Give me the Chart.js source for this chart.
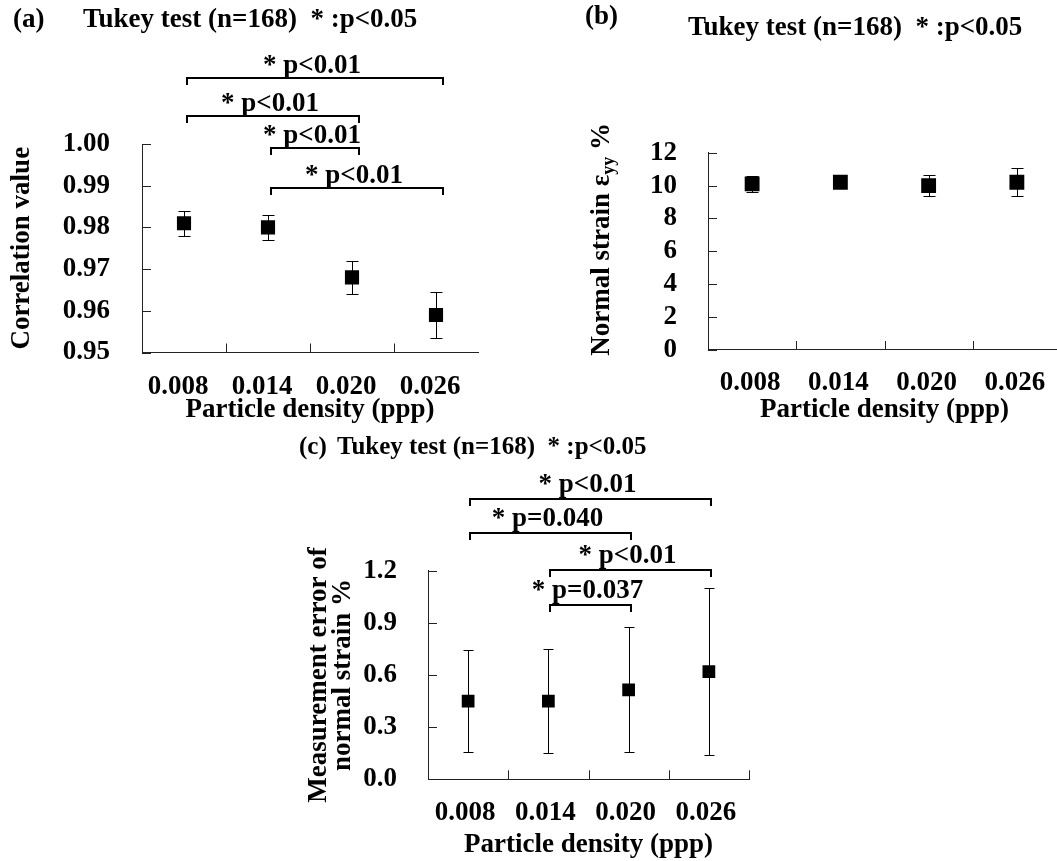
<!DOCTYPE html>
<html>
<head>
<meta charset="utf-8">
<title>Particle density comparison</title>
<script src="https://cdn.jsdelivr.net/npm/chart.js@4.4.0/dist/chart.umd.min.js"></script>
<style>
  html, body { margin: 0; padding: 0; background: #fff; overflow: hidden; }
  canvas { position: absolute; left: 0; top: 0; }
</style>
</head>
<body>
<canvas id="panel-a" width="1100" height="861"></canvas>
<canvas id="panel-b" width="1100" height="861"></canvas>
<canvas id="panel-c" width="1100" height="861"></canvas>
<script>
// Particle densities (ppp)
const densities = ['0.008', '0.014', '0.020', '0.026'];

// (a) correlation value: mean and SD
const corrMean = [0.981, 0.980, 0.968, 0.959];
const corrSd = [0.003, 0.003, 0.004, 0.0055];
const corrTicks = [0.95, 0.96, 0.97, 0.98, 0.99, 1.00];
const corrPairs = [[0, 3, '* p<0.01'], [0, 2, '* p<0.01'], [1, 2, '* p<0.01'], [1, 3, '* p<0.01']];

// (b) normal strain eps_yy %: mean and SD
const strainMean = [10.1, 10.2, 10.0, 10.2];
const strainSd = [0.5, 0.3, 0.65, 0.85];
const strainTicks = [0, 2, 4, 6, 8, 10, 12];

// (c) measurement error of normal strain %: mean and SD
const errMean = [0.45, 0.45, 0.515, 0.62];
const errSd = [0.295, 0.30, 0.36, 0.478];
const errTicks = [0.0, 0.3, 0.6, 0.9, 1.2];
const errPairs = [[0, 3, '* p<0.01'], [0, 2, '* p=0.040'], [1, 3, '* p<0.01'], [1, 2, '* p=0.037']];

const tukeyNote = 'Tukey test (n=168)  * :p<0.05';

const SERIF = '"Liberation Serif", "Times New Roman", serif';
const bold = (size, lineHeight) => ({ family: SERIF, size: size, weight: 'bold', lineHeight: lineHeight || 1.2 });
const cssFont = size => 'bold ' + size + 'px ' + SERIF;

function makePanel(cfg) {
    const extras = {
        id: 'extras',
        // error bars sit under the square markers
        beforeDatasetsDraw(chart) {
            const { ctx, scales: { x, y } } = chart;
            ctx.save();
            ctx.strokeStyle = '#000';
            ctx.lineWidth = 1;
            ctx.beginPath();
            cfg.means.forEach((m, i) => {
                const px = Math.round(x.getPixelForValue(i)) + 0.5;
                const top = Math.round(y.getPixelForValue(m + cfg.sds[i])) + 0.5;
                const bot = Math.round(y.getPixelForValue(m - cfg.sds[i])) + 0.5;
                const h = cfg.capWidth / 2;
                ctx.moveTo(px, top); ctx.lineTo(px, bot);
                ctx.moveTo(px - h, top); ctx.lineTo(px + h, top);
                ctx.moveTo(px - h, bot); ctx.lineTo(px + h, bot);
            });
            ctx.stroke();
            ctx.restore();
        },
        afterDraw(chart) {
            const { ctx, chartArea: area, scales: { x, y } } = chart;
            ctx.save();

            // tick marks pointing into the plot
            ctx.strokeStyle = '#222';
            ctx.lineWidth = 1;
            ctx.beginPath();
            y.ticks.forEach((t, i) => {
                const py = Math.round(y.getPixelForTick(i)) + 0.5;
                ctx.moveTo(area.left, py);
                ctx.lineTo(area.left + 9, py);
            });
            for (let i = 0; i < cfg.xTickCount; i++) {
                const px = Math.round(x.getPixelForValue(i + 0.5)) + 0.5;
                ctx.moveTo(px, area.bottom);
                ctx.lineTo(px, area.bottom - 9);
            }
            ctx.stroke();

            // significance brackets
            ctx.strokeStyle = '#000';
            ctx.fillStyle = '#000';
            ctx.lineWidth = 2;
            ctx.font = cssFont(27);
            ctx.textAlign = 'center';
            ctx.textBaseline = 'alphabetic';
            (cfg.pairs || []).forEach(([a, b, label], k) => {
                const py = Math.round(y.getPixelForValue(cfg.levels[k]));
                const x1 = Math.round(x.getPixelForValue(a)) + cfg.nudge[0];
                const x2 = Math.round(x.getPixelForValue(b)) + cfg.nudge[1];
                ctx.beginPath();
                ctx.moveTo(x1, py + 7);
                ctx.lineTo(x1, py);
                ctx.lineTo(x2, py);
                ctx.lineTo(x2, py + 7);
                ctx.stroke();
                ctx.fillText(label, (x1 + x2) / 2 - 3, py - cfg.labelLift);
            });

            // panel letter and test note
            ctx.textAlign = 'left';
            ctx.textBaseline = 'middle';
            cfg.headers.forEach(hd => {
                ctx.font = cssFont(hd.size);
                ctx.fillText(hd.text, hd.x, hd.y);
            });

            if (cfg.drawYTitle) cfg.drawYTitle(ctx, area);
            ctx.restore();
        }
    };

    return new Chart(document.getElementById(cfg.id), {
        type: 'line',
        data: {
            labels: densities,
            datasets: [{
                data: cfg.means,
                showLine: false,
                pointStyle: 'rect',
                pointRadius: cfg.pointRadius,
                pointBackgroundColor: '#000',
                pointBorderWidth: 0
            }]
        },
        options: {
            responsive: false,
            animation: false,
            events: [],
            devicePixelRatio: 1,
            layout: { padding: cfg.padding },
            plugins: { legend: { display: false }, tooltip: { enabled: false } },
            scales: {
                x: {
                    type: 'category',
                    offset: true,
                    grid: { display: false, drawTicks: false },
                    border: { color: '#222', width: 1 },
                    ticks: {
                        font: bold(27), color: '#000', padding: cfg.xTickPad,
                        labelOffset: cfg.labelOffset, maxRotation: 0, autoSkip: false
                    },
                    title: {
                        display: true, text: 'Particle density (ppp)', font: bold(27), color: '#000',
                        padding: { top: 0, bottom: cfg.xTitlePad }
                    },
                    afterFit: s => { s.height = cfg.xHeight; }
                },
                y: {
                    min: cfg.ticks[0],
                    max: cfg.ticks[cfg.ticks.length - 1],
                    grid: { display: false, drawTicks: false },
                    border: { color: '#222', width: 1 },
                    ticks: {
                        font: bold(27), color: '#000', padding: cfg.yTickPad, autoSkip: false,
                        callback: v => v.toFixed(cfg.decimals)
                    },
                    afterBuildTicks: s => { s.ticks = cfg.ticks.map(v => ({ value: v })); },
                    title: cfg.yTitle ? {
                        display: true, text: cfg.yTitle, font: bold(27, cfg.yTitleLine || 1.2), color: '#000',
                        padding: { top: cfg.yTitlePad, bottom: 0 }
                    } : { display: false },
                    afterFit: s => { s.width = cfg.yWidth; }
                }
            }
        },
        plugins: [extras]
    });
}

// (a) correlation value
makePanel({
    id: 'panel-a',
    means: corrMean, sds: corrSd, ticks: corrTicks, decimals: 2,
    pairs: corrPairs, levels: [1.0159, 1.0067, 0.9990, 0.9894], nudge: [3, 7], labelLift: 5,
    padding: { left: 0, top: 144, right: 622, bottom: 428.5 },
    yWidth: 142, xHeight: 80, xTickPad: 18, xTitlePad: 6, yTickPad: 32, yTitlePad: 6,
    yTitle: 'Correlation value', labelOffset: -6, pointRadius: 10, capWidth: 12, xTickCount: 3,
    headers: [{ text: '(a)', x: 13, y: 20, size: 27 }, { text: tukeyNote, x: 83, y: 20, size: 27 }]
});

// (b) normal strain
makePanel({
    id: 'panel-b',
    means: strainMean, sds: strainSd, ticks: strainTicks, decimals: 0,
    padding: { left: 600, top: 152.7, right: 39, bottom: 431 },
    yWidth: 108, xHeight: 80, xTickPad: 17, xTitlePad: 4, yTickPad: 31,
    labelOffset: -2, pointRadius: 10.5, capWidth: 12, xTickCount: 3,
    headers: [{ text: '(b)', x: 585, y: 17, size: 27 }, { text: tukeyNote, x: 688, y: 28, size: 27 }],
    drawYTitle(ctx, area) {
        // "Normal strain ε_yy %" with a subscript, read bottom to top
        const main = 'Normal strain ε', sub = 'yy', tail = ' %';
        ctx.font = cssFont(27);
        const w1 = ctx.measureText(main).width, w3 = ctx.measureText(tail).width;
        ctx.font = cssFont(18);
        const w2 = ctx.measureText(sub).width;
        const total = w1 + w2 + w3;
        ctx.translate(area.left - 106, (area.top + area.bottom) / 2 - 12);
        ctx.rotate(-Math.PI / 2);
        ctx.textAlign = 'left';
        ctx.textBaseline = 'middle';
        ctx.font = cssFont(27);
        ctx.fillText(main, -total / 2, 0);
        ctx.font = cssFont(18);
        ctx.fillText(sub, -total / 2 + w1, 7);
        ctx.font = cssFont(27);
        ctx.fillText(tail, -total / 2 + w1 + w2, 0);
    }
});

// (c) measurement error of normal strain
makePanel({
    id: 'panel-c',
    means: errMean, sds: errSd, ticks: errTicks, decimals: 1,
    pairs: errPairs, levels: [1.611, 1.419, 1.204, 1.003], nudge: [2, 2], labelLift: 7,
    padding: { left: 278, top: 570.7, right: 351, bottom: 0 },
    yWidth: 150, xHeight: 81.7, xTickPad: 17.5, xTitlePad: 0, yTickPad: 31,
    yTitle: ['Measurement error of', 'normal strain %'], yTitleLine: 0.9, yTitlePad: 29,
    labelOffset: -3, pointRadius: 9, capWidth: 10, xTickCount: 4,
    headers: [{ text: '(c)', x: 299, y: 448, size: 25 }, { text: tukeyNote, x: 337, y: 448, size: 25 }]
});
</script>
</body>
</html>
